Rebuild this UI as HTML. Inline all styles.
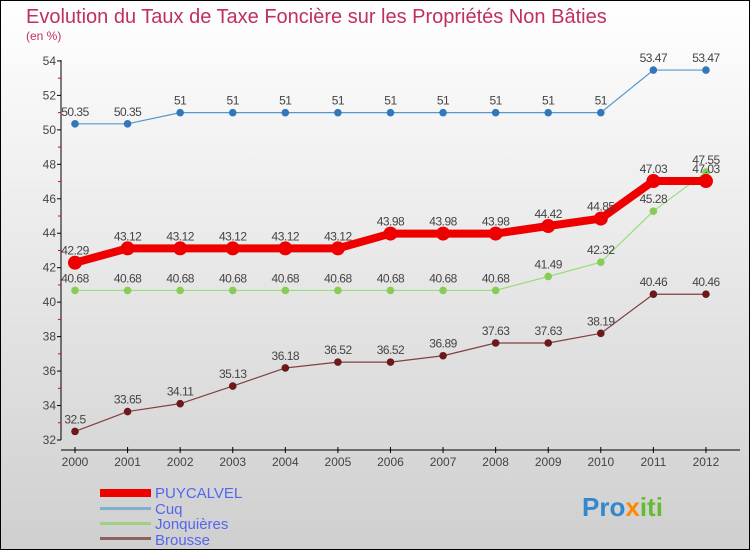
<!DOCTYPE html>
<html><head><meta charset="utf-8"><style>
body{margin:0}
svg{display:block;font-family:"Liberation Sans",sans-serif}
</style></head><body>
<svg id="c" width="750" height="550" xmlns="http://www.w3.org/2000/svg">
<defs><linearGradient id="bg" x1="0" y1="0" x2="0" y2="1"><stop offset="0" stop-color="#ffffff"/><stop offset="1" stop-color="#cfcfcf"/></linearGradient></defs>
<rect x="0.5" y="0.5" width="749" height="549" fill="url(#bg)" stroke="#000"/>
<text x="26" y="23" font-size="20" fill="#c0305a">Evolution du Taux de Taxe Foncière sur les Propriétés Non Bâties</text>
<text x="26" y="40" font-size="12" fill="#c0305a">(en %)</text>
<g id="axes"></g><g id="series"></g>
<g>
<rect x="100" y="489" width="51" height="8" fill="#e00"/>
<text x="155" y="498" font-size="15" fill="#5566ee">PUYCALVEL</text>
<rect x="100" y="507" width="51" height="3" fill="#7fb0d0"/>
<text x="155" y="514" font-size="15" fill="#5566ee">Cuq</text>
<rect x="100" y="522" width="51" height="3" fill="#a0d080"/>
<text x="155" y="529" font-size="15" fill="#5566ee">Jonquières</text>
<rect x="100" y="537" width="51" height="3" fill="#906060"/>
<text x="155" y="545" font-size="15" fill="#5566ee">Brousse</text>
</g>
<text x="582" y="516" font-size="26" font-weight="bold"><tspan fill="#3388cc">Pro</tspan><tspan fill="#ff8800">x</tspan><tspan fill="#66bb33">iti</tspan></text>
</svg>
<script>
const years=[2000,2001,2002,2003,2004,2005,2006,2007,2008,2009,2010,2011,2012];
const yTicks=[32,34,36,38,40,42,44,46,48,50,52,54];
const puycalvel=[42.29,43.12,43.12,43.12,43.12,43.12,43.98,43.98,43.98,44.42,44.85,47.03,47.03];
const cuq=[50.35,50.35,51,51,51,51,51,51,51,51,51,53.47,53.47];
const jonquieres=[40.68,40.68,40.68,40.68,40.68,40.68,40.68,40.68,40.68,41.49,42.32,45.28,47.55];
const brousse=[32.5,33.65,34.11,35.13,36.18,36.52,36.52,36.89,37.63,37.63,38.19,40.46,40.46];
const NS="http://www.w3.org/2000/svg";
const xs=i=>75+i*52.58;
const ys=v=>440-(v-32)*17.23;
function mk(t,a,p){const e=document.createElementNS(NS,t);for(const k in a)e.setAttribute(k,a[k]);p.appendChild(e);return e;}
const ax=document.getElementById('axes');
const yAxis=mk('line',{x1:61,y1:60,x2:61,y2:440,stroke:'#000'},ax);


yTicks.forEach(v=>{
  mk('line',{x1:57,y1:ys(v),x2:61,y2:ys(v),stroke:'#000'},ax);
  if(v<54)mk('line',{x1:58,y1:ys(v+1),x2:61,y2:ys(v+1),stroke:'#e00'},ax);
  const t=mk('text',{x:56,y:ys(v)+4,'font-size':12,'text-anchor':'end',fill:'#444'},ax);
  t.textContent=v;
  
  
});
const xAxis=mk('line',{x1:61,y1:450,x2:740,y2:450,stroke:'#000'},ax);


years.forEach((y,i)=>{
  mk('line',{x1:xs(i),y1:447,x2:xs(i),y2:453,stroke:'#000'},ax);
  const t=mk('text',{x:xs(i),y:466,'font-size':12,'text-anchor':'middle',fill:'#444'},ax);
  t.textContent=y;
  
  
});
const sg=document.getElementById('series');
function draw(vals,name,lc,pc,lw,r){
  const g=mk('g',{},sg);
  
  
  const l=mk('polyline',{points:vals.map((v,i)=>xs(i)+','+ys(v)).join(' '),fill:'none',stroke:lc,'stroke-width':lw,'stroke-linejoin':'round'},g);
  
  
  vals.forEach((v,i)=>{
    const c=mk('circle',{cx:xs(i),cy:ys(v),r:r,fill:pc},g);
    
    
    const t=mk('text',{x:xs(i),y:ys(v)-8,'font-size':12,'text-anchor':'middle',fill:'#444','letter-spacing':'-0.5'},g);
    t.textContent=v;
    
    
  });
}
draw(brousse,'brousse','#804040','#6a1a1a',1.2,3.8);
draw(jonquieres,'jonquieres','#99dd77','#88cc55',1.2,3.8);
draw(cuq,'cuq','#5599cc','#3377bb',1.2,3.8);
draw(puycalvel,'puycalvel','#ee0000','#ee0000',8,7);
</script>
</body></html>
